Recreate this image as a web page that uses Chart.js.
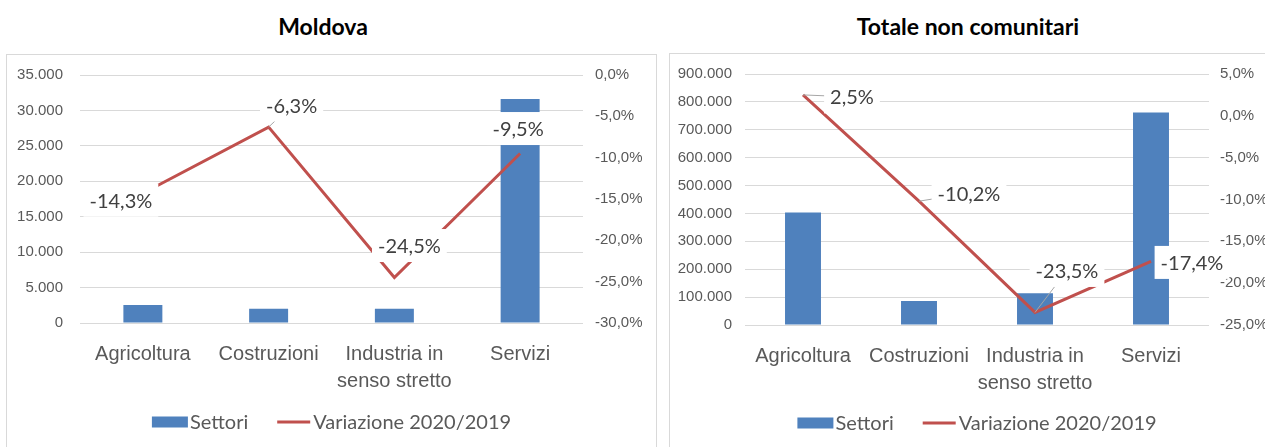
<!DOCTYPE html>
<html>
<head>
<meta charset="utf-8">
<script src="https://cdn.jsdelivr.net/npm/chart.js@4"></script>
<style>
  body { margin: 0; background: #fff; width: 1265px; height: 447px; overflow: hidden; position: relative; font-family: Lato, sans-serif; }
  .title { position: absolute; top: 14px; line-height: 24px; font-weight: bold; font-size: 23px; color: #000; transform: translateX(-50%); white-space: nowrap; }
  .box { position: absolute; border: 1px solid #d9d9d9; }
  canvas { display: block; }
</style>
</head>
<body>
<div class="title" style="left:323px">Moldova</div>
<div class="title" style="left:968px">Totale non comunitari</div>
<div class="box" style="left:6px;top:54px;width:649px;height:400px"><canvas id="moldova" width="649" height="392"></canvas></div>
<div class="box" style="left:669px;top:53px;width:640px;height:400px"><canvas id="totale" width="600" height="393"></canvas></div>

<script>
// categories and series names
const categories = ['Agricoltura', 'Costruzioni', ['Industria in', 'senso stretto'], 'Servizi'];
const seriesNames = ['Settori', 'Variazione 2020/2019'];

// Moldova
const moldovaSettori = [2550, 2000, 2000, 31600];
const moldovaVariazione = [-14.3, -6.3, -24.5, -9.5];
const moldovaTicks = [0, 5000, 10000, 15000, 20000, 25000, 30000, 35000];
const moldovaPctTicks = [-30, -25, -20, -15, -10, -5, 0];

// Totale non comunitari
const totaleSettori = [403000, 86000, 114000, 762000];
const totaleVariazione = [2.5, -10.2, -23.5, -17.4];
const totaleTicks = [0, 100000, 200000, 300000, 400000, 500000, 600000, 700000, 800000, 900000];
const totalePctTicks = [-25, -20, -15, -10, -5, 0, 5];

const BLUE = '#4f81bd';
const RED = '#c0504d';
const GREY = '#595959';

// where the percentage labels sit, relative to their point
const moldovaLabelPos = [
  { dx: -22, dy: 7 },
  { dx: 23, dy: -22, leader: true },
  { dx: 15, dy: -32 },
  { dx: -2, dy: -25 }
];
const totaleLabelPos = [
  { dx: 49, dy: 2, leader: true },
  { dx: 50, dy: -8, leader: true },
  { dx: 32, dy: -42, leader: true },
  { dx: 41, dy: 1 }
];

const fmtInt = v => String(v).replace(/\B(?=(\d{3})+(?!\d))/g, '.');
const fmtPct = v => v.toFixed(1).replace('.', ',') + '%';

// percentage labels on the line, white box behind, optional leader line
function labelPlugin(values, pos) {
  return {
    id: 'valueLabels',
    afterDatasetsDraw(chart) {
      const ctx = chart.ctx;
      const meta = chart.getDatasetMeta(1);
      ctx.save();
      ctx.font = '20px Lato';
      ctx.textAlign = 'center';
      ctx.textBaseline = 'middle';
      meta.data.forEach((pt, i) => {
        const p = pos[i];
        const cx = pt.x + p.dx, cy = pt.y + p.dy;
        const text = fmtPct(values[i]);
        const w = ctx.measureText(text).width + 12;
        const h = 33;
        if (p.leader) {
          ctx.strokeStyle = '#a6a6a6';
          ctx.lineWidth = 1;
          ctx.beginPath();
          ctx.moveTo(pt.x, pt.y);
          ctx.lineTo(cx, cy);
          ctx.stroke();
        }
        ctx.fillStyle = '#fff';
        ctx.fillRect(cx - w / 2, cy - h / 2, w, h);
        ctx.fillStyle = '#404040';
        ctx.fillText(text, cx, cy + 1);
      });
      ctx.restore();
    }
  };
}

// legend row drawn under the axis labels
function legendPlugin(legendY) {
  return {
    id: 'legendRow',
    afterDraw(chart) {
      const ctx = chart.ctx;
      const a = chart.chartArea;
      ctx.save();
      ctx.font = '20px Lato';
      ctx.textBaseline = 'middle';
      ctx.textAlign = 'left';
      const w0 = ctx.measureText(seriesNames[0]).width;
      const w1 = ctx.measureText(seriesNames[1]).width;
      const total = 36 + 2 + w0 + 29 + 33 + 3 + w1;
      let x = (a.left + a.right) / 2 - total / 2;
      ctx.fillStyle = BLUE;
      ctx.fillRect(x, legendY - 5.5, 36, 11);
      x += 38;
      ctx.fillStyle = GREY;
      ctx.fillText(seriesNames[0], x, legendY + 1);
      x += w0 + 29;
      ctx.strokeStyle = RED;
      ctx.lineWidth = 3;
      ctx.beginPath();
      ctx.moveTo(x, legendY);
      ctx.lineTo(x + 33, legendY);
      ctx.stroke();
      x += 36;
      ctx.fillStyle = GREY;
      ctx.fillText(seriesNames[1], x, legendY + 1);
      ctx.restore();
    }
  };
}

function makeChart(id, settori, variazione, ticks, pctTicks, L, labelPos) {
  return new Chart(document.getElementById(id), {
    type: 'bar',
    data: {
      labels: categories,
      datasets: [
        {
          type: 'bar', label: seriesNames[0], data: settori, backgroundColor: BLUE,
          yAxisID: 'y', order: 1, categoryPercentage: 1, barPercentage: 0.31
        },
        {
          type: 'line', label: seriesNames[1], data: variazione, borderColor: RED, backgroundColor: RED,
          borderWidth: 3, pointRadius: 0, yAxisID: 'y1', order: 0, tension: 0
        }
      ]
    },
    options: {
      responsive: false,
      animation: false,
      layout: { padding: { top: L.padTop, bottom: L.padBottom, left: 0, right: 0 } },
      plugins: {
        tooltip: { enabled: false },
        legend: { display: false }
      },
      scales: {
        x: {
          grid: { display: false, drawTicks: false },
          border: { display: false },
          ticks: { color: GREY, font: { size: 20, lineHeight: 1.35 }, padding: 18, maxRotation: 0, autoSkip: false },
          afterFit: s => { s.height = L.xHeight; }
        },
        y: {
          position: 'left',
          min: ticks[0], max: ticks[ticks.length - 1],
          grid: { color: '#d9d9d9', drawTicks: false },
          border: { display: false },
          ticks: { color: GREY, font: { size: 15 }, padding: L.yPad, callback: v => fmtInt(v) },
          afterBuildTicks: s => { s.ticks = ticks.map(v => ({ value: v })); },
          afterFit: s => { s.width = L.yWidth; s.paddingTop = 0; s.paddingBottom = 0; }
        },
        y1: {
          position: 'right',
          min: pctTicks[0], max: pctTicks[pctTicks.length - 1],
          grid: { display: false, drawTicks: false },
          border: { display: false },
          ticks: { color: GREY, font: { size: 15 }, padding: L.y1Pad, callback: v => fmtPct(v) },
          afterBuildTicks: s => { s.ticks = pctTicks.map(v => ({ value: v })); },
          afterFit: s => { s.width = L.y1Width; s.paddingTop = 0; s.paddingBottom = 0; }
        }
      }
    },
    plugins: [labelPlugin(variazione, labelPos), legendPlugin(L.legendY)]
  });
}

makeChart('moldova', moldovaSettori, moldovaVariazione, moldovaTicks, moldovaPctTicks,
  { padTop: 20, padBottom: 44, xHeight: 80, yWidth: 73, yPad: 17, y1Width: 73, y1Pad: 12, legendY: 367 }, moldovaLabelPos);

makeChart('totale', totaleSettori, totaleVariazione, totaleTicks, totalePctTicks,
  { padTop: 20, padBottom: 42, xHeight: 80, yWidth: 75, yPad: 13, y1Width: 61, y1Pad: 11, legendY: 369 }, totaleLabelPos);
</script>
</body>
</html>
